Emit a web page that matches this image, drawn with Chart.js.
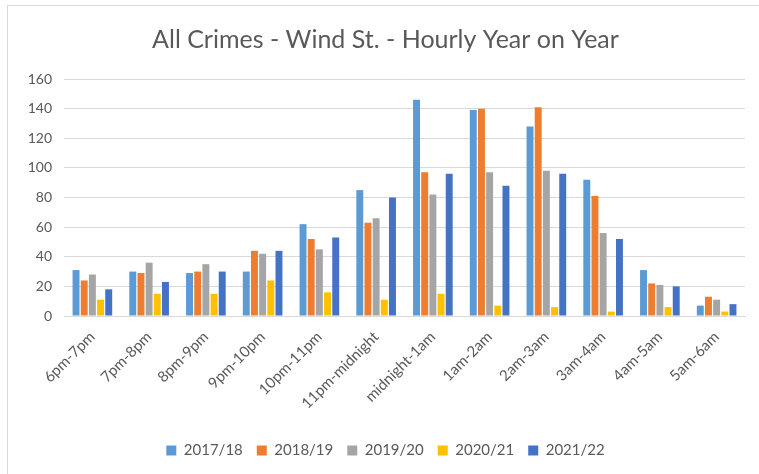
<!DOCTYPE html>
<html>
<head>
<meta charset="utf-8">
<script src="https://cdn.jsdelivr.net/npm/chart.js@4"></script>
<style>
  html, body { margin: 0; padding: 0; background: #fff; overflow: hidden; }
  #wrap { position: relative; width: 759px; height: 474px; }
  #frame { position: absolute; left: 7px; top: 5px; width: 800px; height: 500px; border: 1.5px solid #d9d9d9; }
  canvas { position: absolute; left: 0; top: 0; }
</style>
</head>
<body>
<div id="wrap">
  <div id="frame"></div>
  <canvas id="crimeChart" width="759" height="474"></canvas>
</div>
<script>
const hours = ['6pm-7pm', '7pm-8pm', '8pm-9pm', '9pm-10pm', '10pm-11pm', '11pm-midnight',
    'midnight-1am', '1am-2am', '2am-3am', '3am-4am', '4am-5am', '5am-6am'];

const y2017 = [31, 30, 29, 30, 62, 85, 146, 139, 128, 92, 31, 7];
const y2018 = [24, 29, 30, 44, 52, 63, 97, 140, 141, 81, 22, 13];
const y2019 = [28, 36, 35, 42, 45, 66, 82, 97, 98, 56, 21, 11];
const y2020 = [11, 15, 15, 24, 16, 11, 15, 7, 6, 3, 6, 3];
const y2021 = [18, 23, 30, 44, 53, 80, 96, 88, 96, 52, 20, 8];

const seriesNames = ['2017/18', '2018/19', '2019/20', '2020/21', '2021/22'];
const seriesColors = ['#5b9bd5', '#ed7d31', '#a5a5a5', '#ffc000', '#4472c4'];
const seriesData = [y2017, y2018, y2019, y2020, y2021];

const font = "Lato, 'Open Sans', sans-serif";
const textColor = '#595959';

const ctx = document.getElementById('crimeChart').getContext('2d');

new Chart(ctx, {
    type: 'bar',
    data: {
        labels: hours,
        datasets: seriesNames.map((name, i) => ({
            label: name,
            data: seriesData[i],
            backgroundColor: seriesColors[i],
            borderWidth: 0,
            barPercentage: 0.85,
            categoryPercentage: 0.72
        }))
    },
    options: {
        responsive: false,
        animation: false,
        layout: { padding: { left: 26, right: 14, top: 0, bottom: 6 } },
        scales: {
            y: {
                min: 0,
                max: 160,
                ticks: { stepSize: 20, color: textColor, font: { family: font, size: 14 }, padding: 12 },
                grid: { color: '#d9d9d9', lineWidth: 1, drawTicks: false },
                border: { display: false },
                afterFit: s => { s.width = 38; }
            },
            x: {
                ticks: { color: textColor, font: { family: font, size: 15 }, minRotation: 45, maxRotation: 45, padding: 4 },
                grid: { display: false },
                border: { color: '#d9d9d9' },
                afterFit: s => { s.height = 113; }
            }
        },
        plugins: {
            title: {
                display: true,
                text: 'All Crimes - Wind St. - Hourly Year on Year',
                color: textColor,
                font: { family: font, size: 25, weight: 'normal' },
                padding: { top: 25, bottom: 24 }
            },
            legend: {
                position: 'bottom',
                labels: {
                    color: textColor,
                    font: { family: font, size: 15 },
                    boxWidth: 10,
                    boxHeight: 10,
                    padding: 14
                }
            },
            tooltip: { enabled: false }
        }
    }
});
</script>
</body>
</html>
